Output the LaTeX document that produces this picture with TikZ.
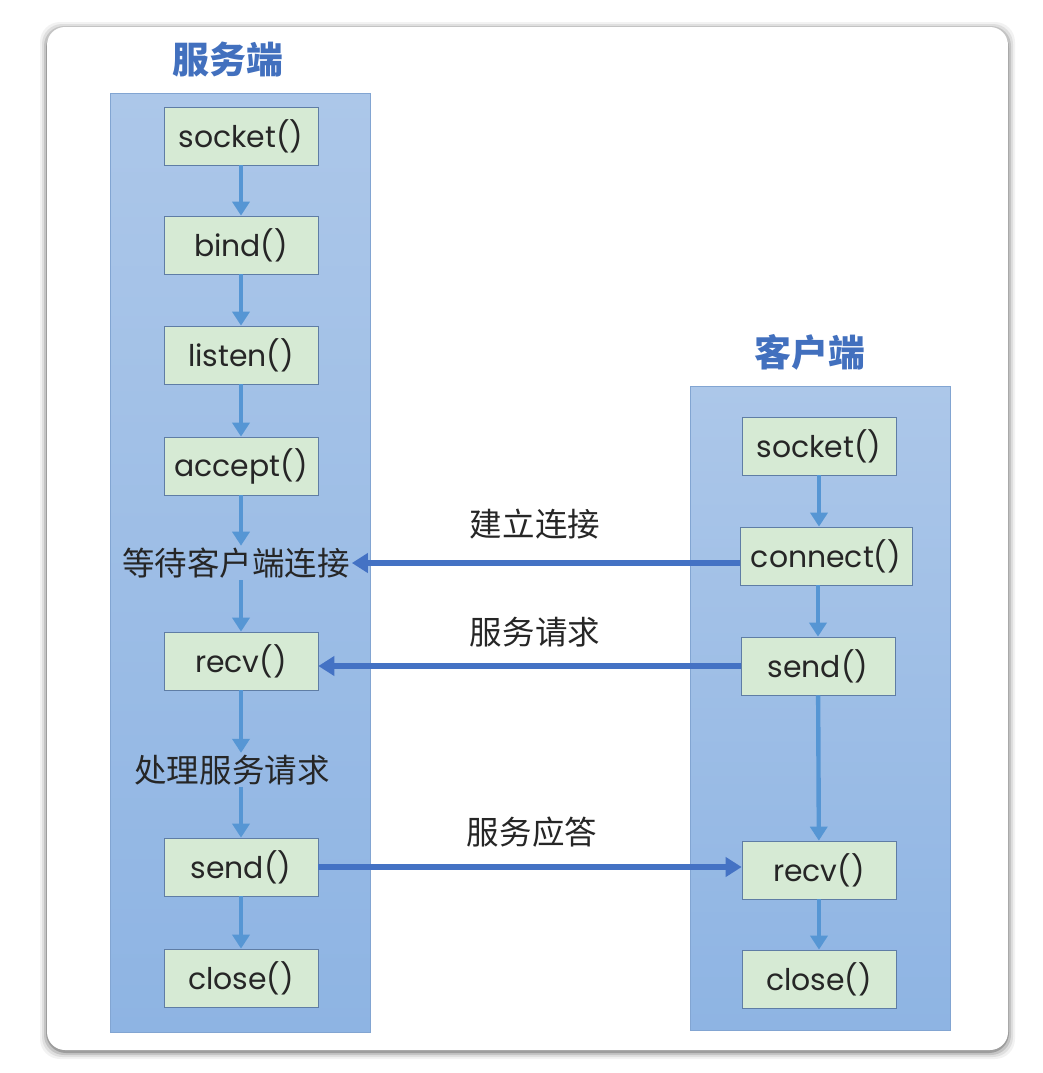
\documentclass[tikz,border=0pt]{standalone}
\usepackage{fontspec}
\setmainfont{Poppins}
\newfontfamily\cjk{Noto Sans CJK SC}
\usetikzlibrary{arrows.meta}
\definecolor{coltop}{RGB}{172,199,233}
\definecolor{colbot}{RGB}{142,180,227}
\definecolor{colline}{RGB}{130,165,210}
\definecolor{boxgreen}{RGB}{214,234,212}
\definecolor{boxline}{RGB}{95,125,165}
\definecolor{flowblue}{RGB}{86,150,212}
\definecolor{msgblue}{RGB}{68,114,196}
\definecolor{titleblue}{RGB}{66,112,190}
\tikzset{
  call/.style={draw=boxline, fill=boxgreen, minimum width=3.08cm, minimum height=1.16cm,
    inner sep=0pt, text=black!85, font=\fontsize{17}{20}\selectfont},
  note/.style={inner sep=1pt, text=black!85, font=\cjk\fontsize{18.5}{22}\selectfont},
  title/.style={text=titleblue, font=\cjk\bfseries\fontsize{21}{25}\selectfont},
  flow/.style={draw=flowblue, line width=2.5pt, -{Triangle[length=0.28cm,width=0.34cm]}},
  msg/.style={draw=msgblue, line width=3pt, -{Triangle[length=0.32cm,width=0.38cm]}}
}
\begin{document}
\begin{tikzpicture}[x=0.02cm, y=-0.02cm]
\useasboundingbox (0,0) rectangle (1043,1073);
% card
\foreach \d/\o in {7/0.05, 5/0.08, 3/0.12, 1/0.2}
  \fill[black, opacity=\o, rounded corners=0.4cm] (47-\d,27-\d+2) rectangle (1008+\d,1050+\d+2);
\fill[white, rounded corners=0.36cm] (47,27) rectangle (1008,1050);
% columns
\shade[top color=coltop, bottom color=colbot, draw=colline] (110,93) rectangle (370,1032);
\shade[top color=coltop, bottom color=colbot, draw=colline] (690,386) rectangle (950,1030);
\node[title] (stitle) at (228,60) {服务端};
\node[title] (ctitle) at (810,352) {客户端};
% server
\node[call] (ssocket) at (241,136) {socket()};
\node[call] (sbind) at (241,245) {bind()};
\node[call] (slisten) at (241,355) {listen()};
\node[call] (saccept) at (241,466) {accept()};
\node[note] (wait) at (236,563) {等待客户端连接};
\node[call] (srecv) at (241,661) {recv()};
\node[note] (work) at (232,770) {处理服务请求};
\node[call] (ssend) at (241,867) {send()};
\node[call] (sclose) at (241,978) {close()};
% client
\node[call] (csocket) at (819,446) {socket()};
\node[call, minimum width=3.44cm] (cconnect) at (826,556) {connect()};
\node[call] (csend) at (818,666) {send()};
\node[call] (crecv) at (819,870) {recv()};
\node[call] (cclose) at (819,979) {close()};
% flow
\draw[flow] (ssocket) -- (sbind);
\draw[flow] (sbind) -- (slisten);
\draw[flow] (slisten) -- (saccept);
\draw[flow] (saccept) -- (saccept |- wait.north);
\draw[flow] (srecv |- wait.south) -- (srecv);
\draw[flow] (srecv) -- (srecv |- work.north);
\draw[flow] (ssend |- work.south) -- (ssend);
\draw[flow] (ssend) -- (sclose);
\draw[flow] (csocket) -- (csocket |- cconnect.north);
\draw[flow] (csend |- cconnect.south) -- (csend);
\draw[flow] (csend) -- (crecv);
\draw[flow] (crecv) -- (cclose);
% messages
\draw[msg] (cconnect.west |- wait) -- (wait.east);
\draw[msg] (csend.west) -- (csend.west -| srecv.east);
\draw[msg] (ssend.east) -- (ssend.east -| crecv.west);
\node[note] (lconnect) at (535,524) {建立连接};
\node[note] (lrequest) at (535,632) {服务请求};
\node[note] (lreply) at (532,832) {服务应答};
\end{tikzpicture}
\end{document}
